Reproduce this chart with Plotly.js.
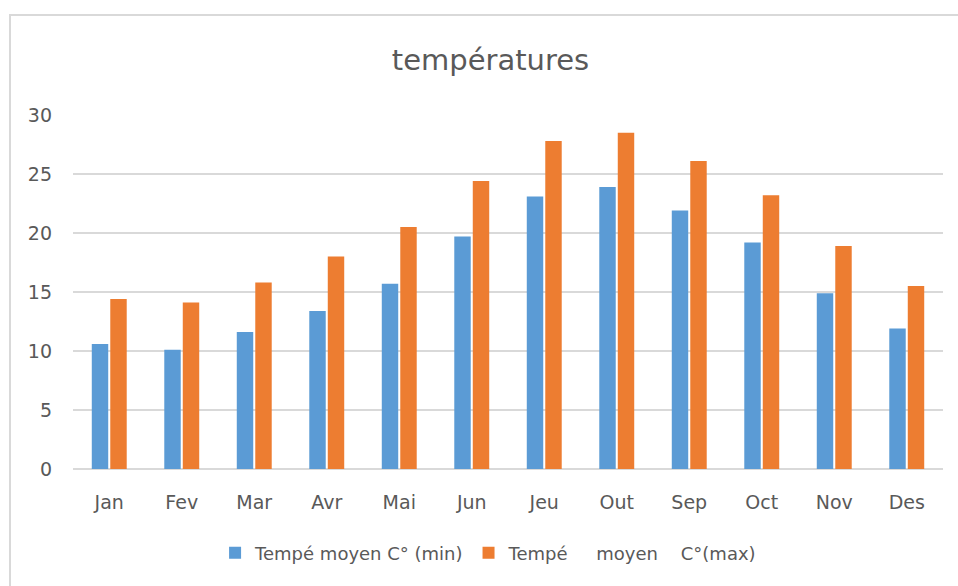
<!DOCTYPE html>
<html>
<head>
<meta charset="utf-8">
<script src="https://cdn.plot.ly/plotly-3.0.1.min.js"></script>
<style>
  html, body { margin: 0; padding: 0; background: #ffffff; }
  #wrap { position: relative; width: 958px; height: 586px; overflow: hidden; }
  #chart { width: 958px; height: 586px; }
  #frame { position: absolute; left: 9px; top: 14px; width: 960px; height: 600px;
           border-top: 2px solid #d9d9d9; border-left: 2px solid #d9d9d9; pointer-events: none; }
</style>
</head>
<body>
<div id="wrap">
  <div id="chart"></div>
  <div id="frame"></div>
</div>
<script>
const months = ["Jan", "Fev", "Mar", "Avr", "Mai", "Jun", "Jeu", "Out", "Sep", "Oct", "Nov", "Des"];
const tempMin = [10.6, 10.1, 11.6, 13.4, 15.7, 19.7, 23.1, 23.9, 21.9, 19.2, 14.9, 11.9];
const tempMax = [14.4, 14.1, 15.8, 18.0, 20.5, 24.4, 27.8, 28.5, 26.1, 23.2, 18.9, 15.5];
const nameMin = "Tempé moyen C° (min)";
const nameMax = "Tempé\u00A0\u00A0\u00A0\u00A0\u00A0moyen\u00A0\u00A0\u00A0\u00A0C°(max)";
const yTicks = [0, 5, 10, 15, 20, 25, 30];

const FONT = "'DejaVu Sans', sans-serif";
const GREY = "#595959";

const data = [
  { type: "bar", x: months, y: tempMin, name: nameMin, marker: { color: "#5B9BD5" } },
  { type: "bar", x: months, y: tempMax, name: nameMax, marker: { color: "#ED7D31" } }
];

const layout = {
  width: 958, height: 586,
  paper_bgcolor: "#ffffff", plot_bgcolor: "#ffffff",
  margin: { l: 73, r: 15, t: 115, b: 117 },
  font: { family: FONT, color: GREY, size: 18 },
  title: { text: "températures", font: { family: FONT, size: 29, color: GREY },
           x: 0.512, xanchor: "center", y: 1 - 60 / 586, yanchor: "middle", yref: "container" },
  barmode: "group",
  bargap: 0.49,
  bargroupgap: 0.11,
  xaxis: {
    type: "category",
    showgrid: false, zeroline: false, showline: false, ticks: "",
    tickfont: { family: FONT, size: 19, color: GREY },
    ticklabelstandoff: 20
  },
  yaxis: {
    range: [0, 30], tickvals: yTicks, ticktext: yTicks.map(String),
    showgrid: true, gridcolor: "#d9d9d9", gridwidth: 1.5,
    zeroline: true, zerolinecolor: "#d9d9d9", zerolinewidth: 1.5,
    showline: false, ticks: "",
    tickfont: { family: FONT, size: 19, color: GREY },
    ticklabelstandoff: 20
  },
  legend: {
    orientation: "h", x: 0.51, xanchor: "center", xref: "container",
    y: 1 - 553 / 586, yanchor: "middle", yref: "container",
    font: { family: FONT, size: 18, color: GREY },
    itemwidth: 30, tracegroupgap: 0
  },
  showlegend: true
};

Plotly.newPlot("chart", data, layout, { displayModeBar: false, staticPlot: true });
</script>
</body>
</html>
